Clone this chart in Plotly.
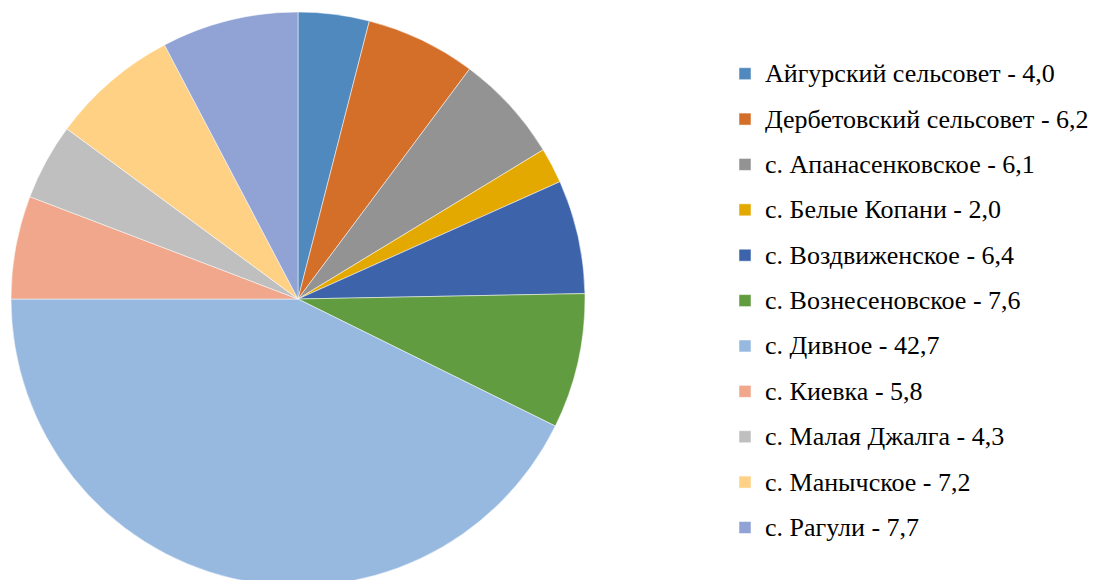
import plotly.graph_objects as go

names = ["Айгурский сельсовет", "Дербетовский сельсовет", "с. Апанасенковское",
         "с. Белые Копани", "с. Воздвиженское", "с. Вознесеновское", "с. Дивное",
         "с. Киевка", "с. Малая Джалга", "с. Манычское", "с. Рагули"]
values = [4.0, 6.2, 6.1, 2.0, 6.4, 7.6, 42.7, 5.8, 4.3, 7.2, 7.7]
colors = ["#4F89BD", "#D46F2A", "#939393", "#E3A900", "#3D64AB", "#629C40",
          "#97B9E0", "#F0A78B", "#BFBFBF", "#FFD185", "#91A3D5"]

W, H = 1099, 600
cx, cy, r = 298, 299, 287

def fmt(v):
    return f"{v:.1f}".replace(".", ",")

labels = [f" <br> <br><span style='font-size:26px'>{n} - {fmt(v)}</span><br> "
          for n, v in zip(names, values)]

fig = go.Figure(go.Pie(
    labels=labels, values=values, sort=False, direction="clockwise", rotation=0,
    marker=dict(colors=colors, line=dict(color="white", width=0.5)),
    textinfo="none", hoverinfo="skip",
    domain=dict(x=[(cx - r) / W, (cx + r) / W], y=[1 - (cy + r) / H, 1 - (cy - r) / H]),
))
fig.update_layout(
    width=W, height=H, margin=dict(l=0, r=0, t=0, b=0),
    paper_bgcolor="white", plot_bgcolor="white",
    font=dict(family="Times New Roman, Liberation Serif, serif"),
    legend=dict(x=725 / W, y=1 - 46 / H, xanchor="left", yanchor="top",
                font=dict(family="Times New Roman, Liberation Serif, serif", size=8.15, color="black"),
                bgcolor="rgba(0,0,0,0)"),
    showlegend=True,
)
fig.write_html("out.html", config={"displayModeBar": False},
               post_script="document.body.style.margin='0';document.body.style.overflow='hidden';document.documentElement.style.overflow='hidden';")
